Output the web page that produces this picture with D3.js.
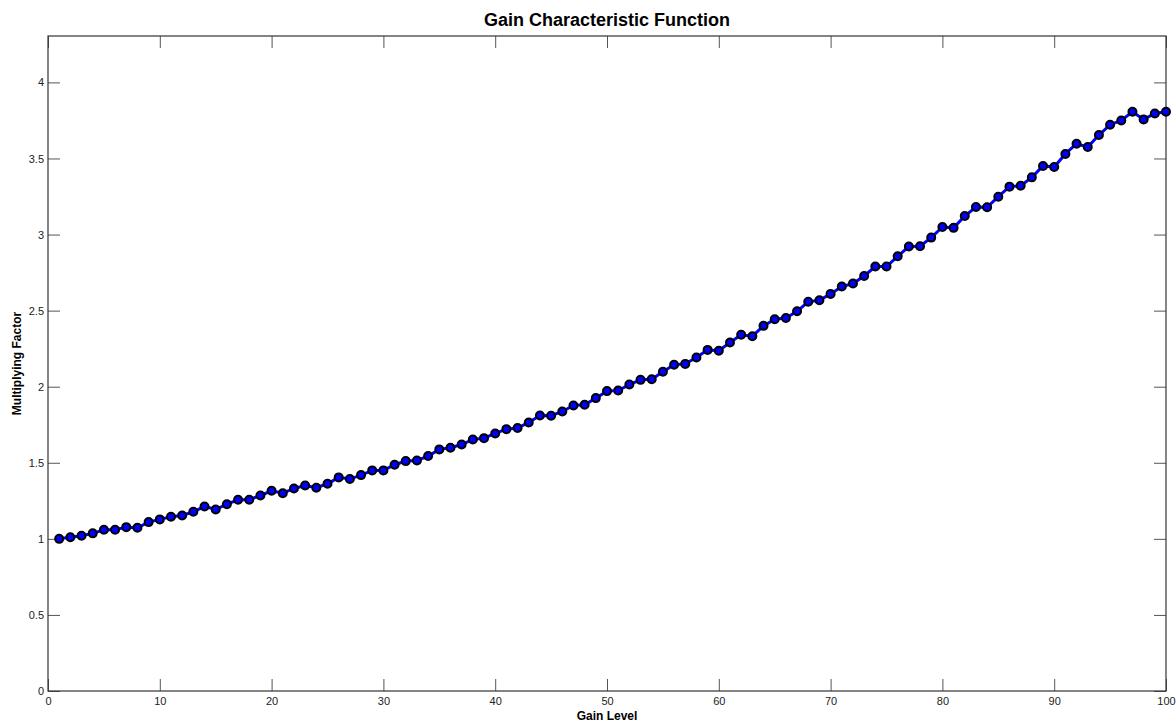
<!DOCTYPE html>
<html>
<head>
<meta charset="utf-8">
<script src="https://cdn.jsdelivr.net/npm/d3@7"></script>
<style>
  body { margin: 0; background: #fff; }
  text { font-family: "Liberation Sans", Arial, sans-serif; }
</style>
</head>
<body>
<svg id="chart"></svg>
<script>
var svgWidth = 1176, svgHeight = 723;
var margin = { top: 36, right: 10, bottom: 32, left: 48 };

// gain levels 1..100
var gainLevels = d3.range(1, 101);
var factors = [
  1.00, 1.01, 1.02, 1.036, 1.06, 1.06, 1.077, 1.073, 1.11, 1.128,
  1.145, 1.154, 1.178, 1.213, 1.193, 1.228, 1.257, 1.257, 1.285, 1.316,
  1.30, 1.331, 1.351, 1.336, 1.362, 1.404, 1.393, 1.419, 1.45, 1.45,
  1.487, 1.511, 1.515, 1.544, 1.588, 1.599, 1.62, 1.653, 1.662, 1.693,
  1.721, 1.728, 1.765, 1.811, 1.809, 1.837, 1.877, 1.881, 1.925, 1.971,
  1.975, 2.014, 2.045, 2.049, 2.098, 2.144, 2.15, 2.192, 2.242, 2.236,
  2.29, 2.341, 2.332, 2.40, 2.443, 2.452, 2.496, 2.558, 2.568, 2.61,
  2.658, 2.678, 2.728, 2.79, 2.79, 2.857, 2.921, 2.923, 2.98, 3.05,
  3.044, 3.122, 3.181, 3.179, 3.249, 3.315, 3.321, 3.376, 3.451, 3.444,
  3.53, 3.597, 3.575, 3.654, 3.722, 3.75, 3.807, 3.757, 3.796, 3.807
];
var xTicks = [0, 10, 20, 30, 40, 50, 60, 70, 80, 90, 100];
var yTicks = [0, 0.5, 1, 1.5, 2, 2.5, 3, 3.5, 4];

var w = 1166 - margin.left, h = 691 - margin.top;

var x = d3.scaleLinear().domain([0, 100]).range([0, w]);
var y = d3.scaleLinear().domain([0, 4.305]).range([h, 0]);

var svg = d3.select('#chart')
    .attr('width', svgWidth)
    .attr('height', svgHeight);

var g = svg.append('g')
    .attr('transform', 'translate(' + margin.left + ',' + margin.top + ')');

function styleAxis(sel, hideLabels) {
  sel.select('.domain').remove();
  sel.selectAll('.tick line').attr('stroke', '#555').attr('stroke-width', 1);
  sel.selectAll('.tick text')
      .attr('fill', '#222')
      .style('font-size', '11px');
  if (hideLabels) sel.selectAll('.tick text').remove();
}

// inward ticks on all four sides
g.append('g')
    .attr('transform', 'translate(0,' + h + ')')
    .call(d3.axisBottom(x).tickValues(xTicks).tickFormat(d3.format('d')).tickSizeInner(-12).tickPadding(4))
    .call(function (s) { styleAxis(s, false); s.selectAll('.tick text').attr('dy', '0.71em').attr('y', 6); });

g.append('g')
    .call(d3.axisTop(x).tickValues(xTicks).tickSizeInner(-12))
    .call(function (s) { styleAxis(s, true); });

g.append('g')
    .call(d3.axisLeft(y).tickValues(yTicks).tickFormat(d3.format('')).tickSizeInner(-12))
    .call(function (s) { styleAxis(s, false); s.selectAll('.tick text').attr('x', -4); });

g.append('g')
    .attr('transform', 'translate(' + w + ',0)')
    .call(d3.axisRight(y).tickValues(yTicks).tickSizeInner(-12))
    .call(function (s) { styleAxis(s, true); });

// box
g.append('rect')
    .attr('x', 0).attr('y', 0)
    .attr('width', w).attr('height', h)
    .attr('fill', 'none')
    .attr('stroke', '#333')
    .attr('stroke-width', 1.2);

var pts = gainLevels.map(function (d, i) { return { lvl: d, val: factors[i] }; });

var line = d3.line()
    .x(function (d) { return x(d.lvl); })
    .y(function (d) { return y(d.val); });

g.append('path')
    .datum(pts)
    .attr('fill', 'none')
    .attr('stroke', '#0000ff')
    .attr('stroke-width', 3)
    .attr('d', line);

g.selectAll('circle')
    .data(pts)
    .enter()
    .append('circle')
    .attr('cx', function (d) { return x(d.lvl); })
    .attr('cy', function (d) { return y(d.val); })
    .attr('r', 4)
    .attr('fill', '#0000ff')
    .attr('stroke', '#000')
    .attr('stroke-width', 2);

// title and labels
svg.append('text')
    .attr('x', margin.left + w / 2)
    .attr('y', 26)
    .attr('text-anchor', 'middle')
    .style('font-size', '18px')
    .style('font-weight', 'bold')
    .text('Gain Characteristic Function');

svg.append('text')
    .attr('x', margin.left + w / 2)
    .attr('y', 720)
    .attr('text-anchor', 'middle')
    .style('font-size', '12px')
    .style('font-weight', 'bold')
    .text('Gain Level');

svg.append('text')
    .attr('transform', 'translate(21,' + (margin.top + h / 2) + ') rotate(-90)')
    .attr('text-anchor', 'middle')
    .style('font-size', '12px')
    .style('font-weight', 'bold')
    .text('Multiplying Factor');
</script>
</body>
</html>
